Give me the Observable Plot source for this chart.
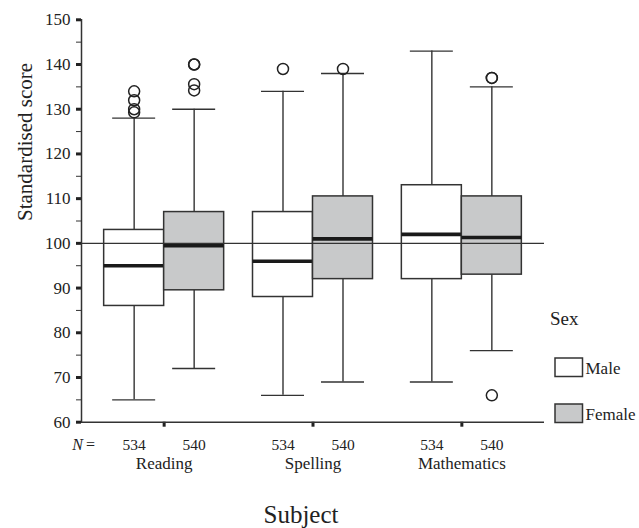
<!DOCTYPE html>
<html>
<head>
<meta charset="utf-8">
<script src="https://cdn.jsdelivr.net/npm/d3@7"></script>
<script src="https://cdn.jsdelivr.net/npm/@observablehq/plot@0.6"></script>
<style>
  body { margin: 0; background: #fff; }
  #chart { position: relative; width: 639px; height: 528px; font-family: "Liberation Serif", "Times New Roman", serif; }
  #legend { position: absolute; left: 545px; top: 300px; }
</style>
</head>
<body>
<div id="chart"></div>
<script>
// Standardised scores by subject and sex: box-plot summaries
const subjects = ["Reading", "Spelling", "Mathematics"];
const sexes = ["Male", "Female"];
const sexFills = ["#ffffff", "#c8c9ca"];

const maleN = [534, 534, 534];
const femaleN = [540, 540, 540];

const maleLow    = [65, 66, 69];
const maleQ1     = [86, 88, 92];
const maleMedian = [95, 96, 102];
const maleQ3     = [103, 107, 113];
const maleHigh   = [128, 134, 143];

const femaleLow    = [72, 69, 76];
const femaleQ1     = [89.5, 92, 93];
const femaleMedian = [99.5, 101, 101.3];
const femaleQ3     = [107, 110.5, 110.5];
const femaleHigh   = [130, 138, 135];

const maleOutliers   = [[134, 132, 130, 129.3], [139], []];
const femaleOutliers = [[140, 140, 135.6, 134.2], [139], [137, 137, 66]];

const yDomain = [60, 150];
const yTicks = [60, 70, 80, 90, 100, 110, 120, 130, 140, 150];
const yMinorTicks = [65, 75, 85, 95, 105, 115, 125, 135, 145];
const referenceScore = 100;

const yTitle = "Standardised score";
const xTitle = "Subject";
const legendTitle = "Sex";

// tidy rows built from the arrays above
const rows = [];
const outliers = [];
subjects.forEach((s, i) => {
  rows.push({subject: s, sex: "Male", n: maleN[i], low: maleLow[i], q1: maleQ1[i], median: maleMedian[i], q3: maleQ3[i], high: maleHigh[i]});
  rows.push({subject: s, sex: "Female", n: femaleN[i], low: femaleLow[i], q1: femaleQ1[i], median: femaleMedian[i], q3: femaleQ3[i], high: femaleHigh[i]});
  maleOutliers[i].forEach(v => outliers.push({subject: s, sex: "Male", value: v}));
  femaleOutliers[i].forEach(v => outliers.push({subject: s, sex: "Female", value: v}));
});

const ink = "#333";
const half = 60;       // each subject band holds two adjacent boxes
const shift = half / 2; // centre of a box relative to the band centre

function boxMarks(sex, sign) {
  const data = rows.filter(d => d.sex === sex);
  const pts = outliers.filter(d => d.sex === sex);
  const boxInset = sign < 0 ? {insetRight: half} : {insetLeft: half};
  const capInset = sign < 0 ? {insetLeft: 8.5, insetRight: 68.5} : {insetLeft: 68.5, insetRight: 8.5};
  return [
    Plot.ruleX(data, {x: "subject", y1: "q3", y2: "high", dx: sign * shift, stroke: ink, strokeWidth: 1.4}),
    Plot.ruleX(data, {x: "subject", y1: "low", y2: "q1", dx: sign * shift, stroke: ink, strokeWidth: 1.4}),
    Plot.tickY(data, {x: "subject", y: "high", stroke: ink, strokeWidth: 1.4, ...capInset}),
    Plot.tickY(data, {x: "subject", y: "low", stroke: ink, strokeWidth: 1.4, ...capInset}),
    Plot.barY(data, {x: "subject", y1: "q1", y2: "q3", fill: "sex", stroke: ink, strokeWidth: 1.5, ...boxInset}),
    Plot.tickY(data, {x: "subject", y: "median", stroke: "#1a1a1a", strokeWidth: 3.6, ...boxInset}),
    Plot.dot(pts, {x: "subject", y: "value", dx: sign * shift, r: 5.5, stroke: "#222", strokeWidth: 1.5, fill: "none"}),
    Plot.text(data, {x: "subject", text: d => String(d.n), dx: sign * shift, frameAnchor: "bottom", dy: 27.5, lineAnchor: "bottom", fontSize: 15.5, fill: "#222"})
  ];
}

const chart = Plot.plot({
  width: 639,
  height: 528,
  marginLeft: 81,
  marginRight: 95,
  marginTop: 19.3,
  marginBottom: 106.3,
  style: {fontFamily: "Liberation Serif, Times New Roman, serif", fontSize: "16px", color: "#222", background: "white"},
  x: {domain: subjects, paddingInner: 0.1938, paddingOuter: 0.1522, round: false},
  y: {domain: yDomain},
  color: {domain: sexes, range: sexFills},
  marks: [
    Plot.axisY({ticks: yMinorTicks, tickSize: 5, strokeWidth: 1, stroke: ink, tickFormat: () => "", label: null}),
    Plot.axisY({ticks: yTicks, tickSize: 5, strokeWidth: 3, stroke: "#222", tickPadding: 6, fontSize: 17, label: null}),
    Plot.axisX({tickSize: 5, strokeWidth: 3, stroke: "#222", tickPadding: 30, fontSize: 17, label: null}),
    Plot.frame({anchor: "left", stroke: ink, strokeWidth: 1.5}),
    Plot.ruleY([yDomain[0]], {stroke: ink, strokeWidth: 1.5}),
    ...boxMarks("Male", -1),
    ...boxMarks("Female", 1),
    Plot.ruleY([referenceScore], {stroke: ink, strokeWidth: 1.3}),
    Plot.text(["N"], {text: d => d, frameAnchor: "bottom-left", dx: -9.3, dy: 27.5, textAnchor: "start", lineAnchor: "bottom", fontStyle: "italic", fontSize: 16}),
    Plot.text(["="], {text: d => d, frameAnchor: "bottom-left", dx: 4.5, dy: 27.5, textAnchor: "start", lineAnchor: "bottom", fontSize: 16}),
    Plot.text([yTitle], {text: d => d, frameAnchor: "left", rotate: -90, dx: -49.5, lineAnchor: "bottom", fontSize: 21, fill: "#222"}),
    Plot.text([xTitle], {text: d => d, frameAnchor: "bottom", dx: -12, dy: 100.5, lineAnchor: "bottom", fontSize: 25, fill: "#222"})
  ]
});

const host = document.getElementById("chart");
host.appendChild(chart);

// legend on the right: title plus one outlined swatch per sex
const color = chart.scale("color");
const legend = d3.select(host).append("svg")
  .attr("id", "legend")
  .attr("width", 94)
  .attr("height", 130)
  .style("font-family", "Liberation Serif, Times New Roman, serif");
legend.append("text").attr("x", 5).attr("y", 25).attr("font-size", 19).attr("fill", "#222").text(legendTitle);
const item = legend.selectAll("g.item").data(color.domain).join("g")
  .attr("class", "item")
  .attr("transform", (d, i) => `translate(0,${58 + i * 46})`);
item.append("rect").attr("x", 10).attr("y", 0).attr("width", 27.5).attr("height", 18.5)
  .attr("fill", d => color.apply(d)).attr("stroke", ink).attr("stroke-width", 1.5);
item.append("text").attr("x", 40.5).attr("y", 16).attr("font-size", 17).attr("fill", "#222").text(d => d);
</script>
</body>
</html>
